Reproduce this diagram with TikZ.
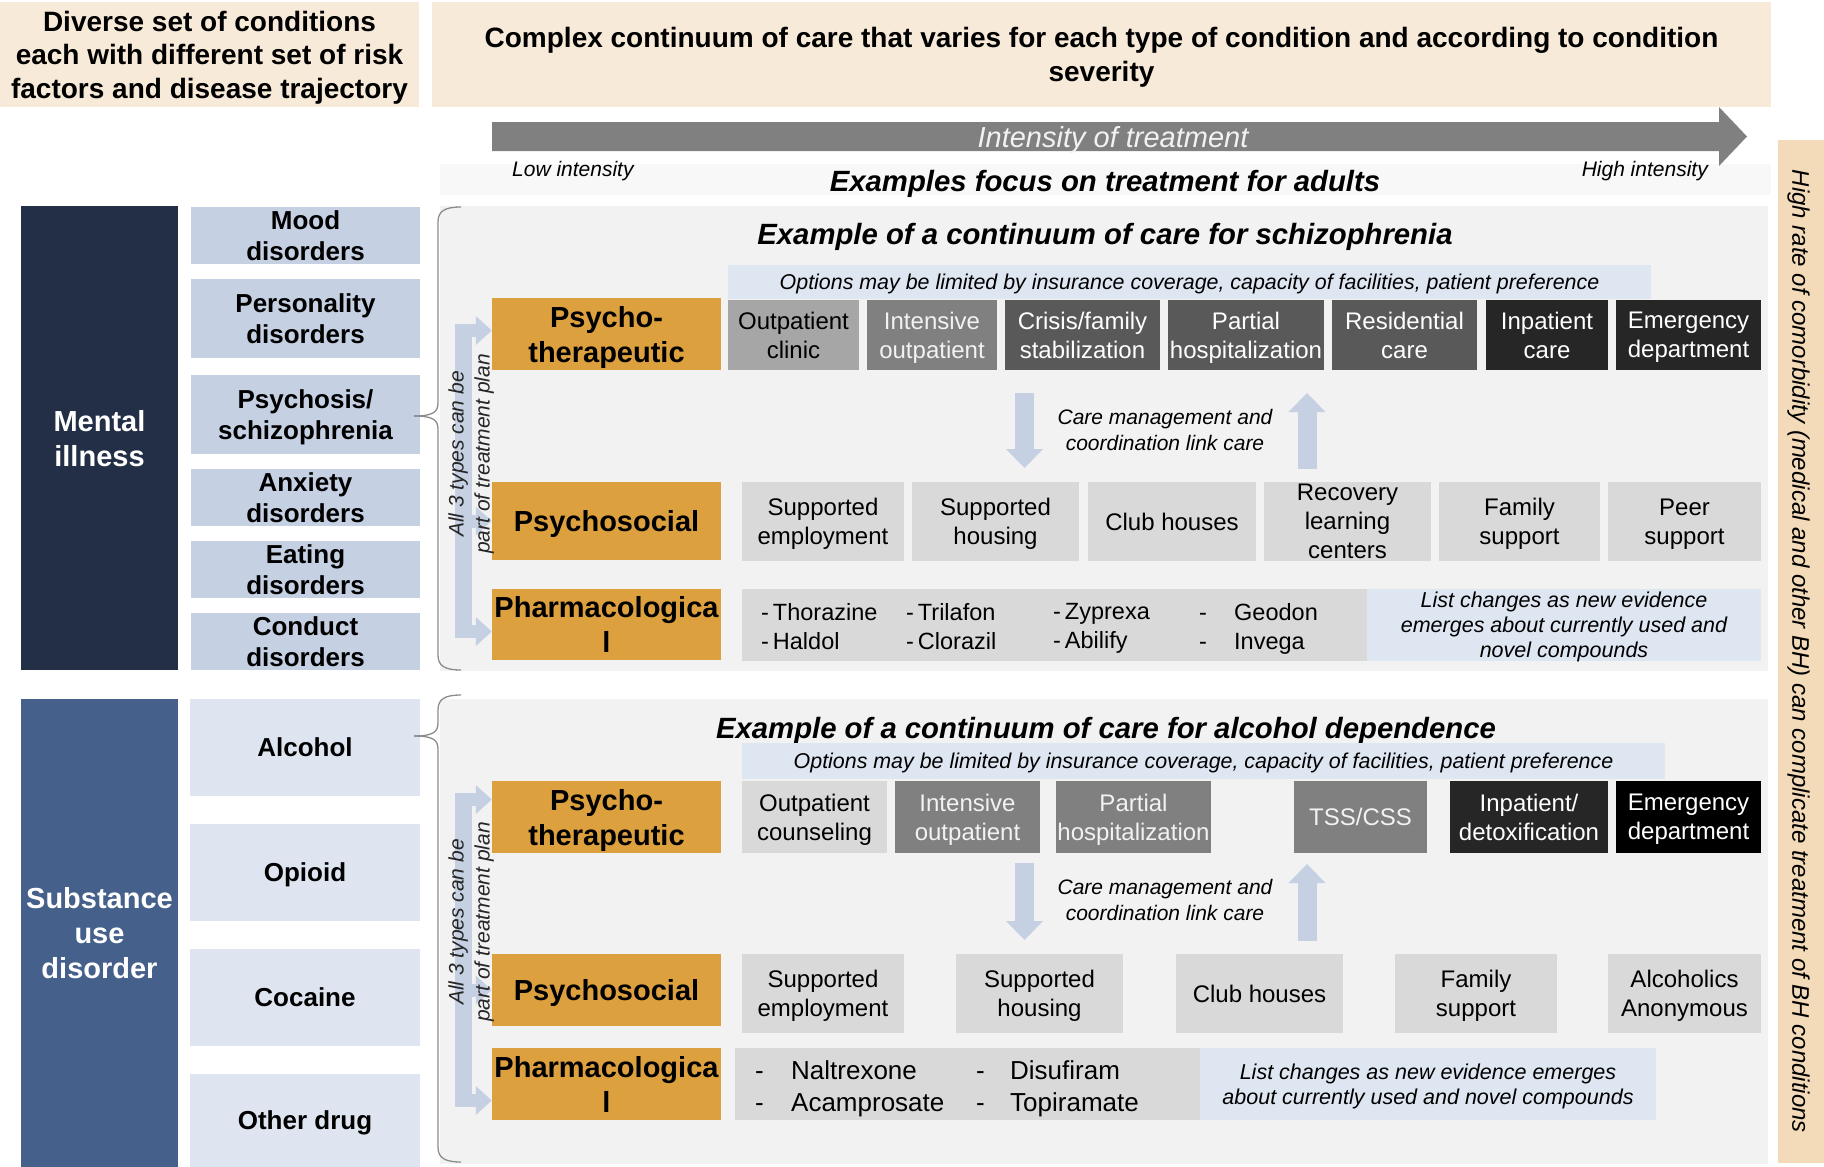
\documentclass[tikz,border=0pt]{standalone}
\usepackage{fontspec}
\setmainfont{Liberation Sans}
\usetikzlibrary{arrows.meta,positioning}

\definecolor{headtan}{HTML}{F8EAD8}
\definecolor{sidetan}{HTML}{F3DBB9}
\definecolor{stripgray}{HTML}{F8F8F8}
\definecolor{panelgray}{HTML}{F2F2F2}
\definecolor{navydark}{HTML}{222F46}
\definecolor{navylight}{HTML}{44608B}
\definecolor{steelA}{HTML}{C5D0E3}
\definecolor{steelB}{HTML}{DEE5F0}
\definecolor{optblue}{HTML}{DEE6F1}
\definecolor{ochre}{HTML}{DDA03F}

\begin{document}
\begin{tikzpicture}[x=1pt,y=-1pt]
\tikzstyle{box}=[rectangle, inner sep=0pt, text depth=0pt, align=center]
\tikzstyle{head}=[box, fill=headtan, font=\fontsize{28}{33.5}\selectfont\bfseries]
\tikzstyle{group}=[box, text=white, font=\fontsize{29}{35}\selectfont\bfseries]
\tikzstyle{cond}=[box, font=\fontsize{26}{31}\selectfont\bfseries]
\tikzstyle{panel}=[box, fill=panelgray]
\tikzstyle{kind}=[box, fill=ochre, minimum width=229, font=\fontsize{29}{35}\selectfont\bfseries]
\tikzstyle{care}=[box, font=\fontsize{24}{29}\selectfont]
\tikzstyle{optA}=[care, fill=black!35]
\tikzstyle{optB}=[care, fill=black!15]
\tikzstyle{optC}=[care, fill=black!50, text=black!5]
\tikzstyle{optD}=[care, fill=black!65, text=white]
\tikzstyle{optE}=[care, fill=black!85, text=white]
\tikzstyle{optF}=[care, fill=black, text=white]
\tikzstyle{title}=[box, font=\fontsize{29.3}{34}\selectfont\bfseries\itshape]
\tikzstyle{limits}=[box, fill=optblue, font=\fontsize{21.4}{25}\selectfont\itshape]
\tikzstyle{note}=[box, font=\fontsize{21}{26}\selectfont\itshape]
\tikzstyle{evid}=[box, fill=optblue, font=\fontsize{21.5}{25}\selectfont\itshape]
\tikzstyle{drugA}=[box, anchor=west, align=left, font=\fontsize{23.5}{29}\selectfont]
\tikzstyle{drugB}=[box, anchor=west, align=left, font=\fontsize{26}{32.5}\selectfont]
\tikzstyle{planlabel}=[box, rotate=90, text=black!85, font=\fontsize{21}{26}\selectfont\itshape]
\tikzstyle{link}=[draw=steelA, line width=19pt, -{Triangle[width=36pt, length=19pt]}]
\tikzstyle{plan}=[draw=steelA, line width=13pt, -{Triangle[width=28pt, length=16pt]}]
\tikzstyle{spine}=[draw=steelA, line width=17pt]
\tikzstyle{curly}=[draw=black!45, line width=1.3pt]

\useasboundingbox (0,0) rectangle (1824,1167);

% headings
\node[head, minimum width=419, minimum height=105] (diverse) at (209.5,54.5)
  {Diverse set of conditions\\each with different set of risk\\factors and disease trajectory};
\node[head, minimum width=1339, minimum height=105] (continuum) at (1101.5,54.5)
  {Complex continuum of care that varies for each type of condition and according to condition\\severity};

% intensity scale
\node[box, fill=stripgray, minimum width=1331, minimum height=31] (strip) at (1105.5,179.5) {};
\fill[black!50] (492,122) -- (1719,122) -- (1719,107) -- (1747,136.5) -- (1719,166) -- (1719,151) -- (492,151) -- cycle;
\node[box, text=black!5, font=\fontsize{29}{34}\selectfont\itshape] (intensity) at (1113,137) {Intensity of treatment};
\node[box, anchor=west, font=\fontsize{21}{25}\selectfont\itshape] (low) at (512,169) {Low intensity};
\node[box, anchor=east, font=\fontsize{21}{25}\selectfont\itshape] (high) at (1708,169) {High intensity};
\node[title] (adults) at (1105,181) {Examples focus on treatment for adults};

\node[box, fill=sidetan, rotate=-90, minimum width=1023, minimum height=46, font=\fontsize{24}{28}\selectfont\itshape] (comorb) at (1801,651.5)
  {High rate of comorbidity (medical and other BH) can complicate treatment of BH conditions};

% mental illness
\node[panel, minimum width=1328, minimum height=465] (panelA) at (1104,438.5) {};
\node[group, fill=navydark, minimum width=157, minimum height=464] (mental) at (99.5,438) {Mental\\illness};
\node[cond, fill=steelA, minimum width=229, minimum height=57] (mood) at (305.5,235.5) {Mood\\disorders};
\node[cond, fill=steelA, minimum width=229, minimum height=79] (person) at (305.5,318.5) {Personality\\disorders};
\node[cond, fill=steelA, minimum width=229, minimum height=79] (psychosis) at (305.5,414.5) {Psychosis/\\schizophrenia};
\node[cond, fill=steelA, minimum width=229, minimum height=57] (anxiety) at (305.5,497.5) {Anxiety\\disorders};
\node[cond, fill=steelA, minimum width=229, minimum height=57] (eating) at (305.5,569.5) {Eating\\disorders};
\node[cond, fill=steelA, minimum width=229, minimum height=57] (conduct) at (305.5,641.5) {Conduct\\disorders};

\draw[curly] (461,207) .. controls (445,207) and (438,211) .. (438,222) -- (438,403)
  .. controls (438,412) and (433,416) .. (414,416);
\draw[curly] (414,416) .. controls (433,416) and (438,420) .. (438,429) -- (438,655)
  .. controls (438,666) and (445,670) .. (461,670);

\node[kind, minimum height=72] (psyA) at (606.5,334) {Psycho-\\therapeutic};
\node[kind, minimum height=78] (socA) at (606.5,521) {Psychosocial};
\node[kind, minimum height=71] (pharA) at (606.5,624.5) {Pharmacologica\\l};

\coordinate (spA1) at (463,324);
\coordinate (spA2) at (463,638);
\coordinate (armA1) at (455,330.5);
\coordinate (armA2) at (455,521);
\coordinate (armA3) at (455,631.5);
\draw[spine] (spA1) -- (spA2);
\draw[plan] (armA1) -- (armA1 -| psyA.west);
\draw[plan] (armA2) -- (armA2 -| socA.west);
\draw[plan] (armA3) -- (armA3 -| pharA.west);
\node[planlabel] (planA) at (469,454) {All 3 types can be\\part of treatment plan};

\node[title] (titleA) at (1105,234) {Example of a continuum of care for schizophrenia};
\node[limits, minimum width=923, minimum height=34] (limA) at (1189.5,282)
  {Options may be limited by insurance coverage, capacity of facilities, patient preference};

\node[optA, minimum width=131, minimum height=70] (clinic) at (793.5,335) {Outpatient\\clinic};
\node[optC, minimum width=130, minimum height=70] (intensA) at (932,335) {Intensive\\outpatient};
\node[optD, minimum width=155, minimum height=70] (crisis) at (1082.5,335) {Crisis/family\\stabilization};
\node[optD, minimum width=156, minimum height=70] (partialA) at (1246,335) {Partial\\hospitalization};
\node[optD, minimum width=145, minimum height=70] (resid) at (1404.5,335) {Residential\\care};
\node[optE, minimum width=122, minimum height=70] (inpatA) at (1547,335) {Inpatient\\care};
\node[optE, minimum width=145, minimum height=70] (emergA) at (1688.5,335) {Emergency\\department};

\coordinate (dnA1) at (1024.5,393);
\coordinate (dnA2) at (1024.5,468);
\coordinate (upA1) at (1307,469);
\coordinate (upA2) at (1307,393);
\draw[link] (dnA1) -- (dnA2);
\draw[link] (upA1) -- (upA2);
\node[note] (linkA) at (1165,430) {Care management and\\coordination link care};

\node[optB, minimum width=162, minimum height=79] (employA) at (823,521.5) {Supported\\employment};
\node[optB, minimum width=167, minimum height=79] (housingA) at (995.5,521.5) {Supported\\housing};
\node[optB, minimum width=168, minimum height=79] (clubA) at (1172,521.5) {Club houses};
\node[optB, minimum width=167, minimum height=79] (recovery) at (1347.5,521.5) {Recovery\\learning\\centers};
\node[optB, minimum width=161, minimum height=79] (familyA) at (1519.5,521.5) {Family\\support};
\node[optB, minimum width=153, minimum height=79] (peer) at (1684.5,521.5) {Peer\\support};

\node[box, fill=black!15, minimum width=625, minimum height=72] (drugsA) at (1054.5,625) {};
\node[evid, minimum width=394, minimum height=72] (evidA) at (1564,625)
  {List changes as new evidence\\emerges about currently used and\\novel compounds};
\node[drugA] (colA1) at (761,626) {-\,Thorazine\\-\,Haldol};
\node[drugA] (colA2) at (906,626) {-\,Trilafon\\-\,Clorazil};
\node[drugA] (colA3) at (1053,626) {-\,Zyprexa\\-\,Abilify};
\node[drugA] (colA4) at (1199,626) {\makebox[35pt][l]{-}Geodon\\\makebox[35pt][l]{-}Invega};

% substance use disorder
\node[panel, minimum width=1328, minimum height=465] (panelB) at (1104,931.5) {};
\node[group, fill=navylight, minimum width=157, minimum height=468] (substance) at (99.5,933) {Substance\\use\\disorder};
\node[cond, fill=steelB, minimum width=230, minimum height=97] (alcohol) at (305,747.5) {Alcohol};
\node[cond, fill=steelB, minimum width=230, minimum height=97] (opioid) at (305,872.5) {Opioid};
\node[cond, fill=steelB, minimum width=230, minimum height=97] (cocaine) at (305,997.5) {Cocaine};
\node[cond, fill=steelB, minimum width=230, minimum height=93] (other) at (305,1120.5) {Other drug};

\draw[curly] (461,695) .. controls (445,695) and (438,699) .. (438,710) -- (438,723)
  .. controls (438,732) and (433,736) .. (414,736);
\draw[curly] (414,736) .. controls (433,736) and (438,740) .. (438,749) -- (438,1147)
  .. controls (438,1158) and (445,1162) .. (461,1162);

\node[kind, minimum height=72] (psyB) at (606.5,817) {Psycho-\\therapeutic};
\node[kind, minimum height=72] (socB) at (606.5,990) {Psychosocial};
\node[kind, minimum height=72] (pharB) at (606.5,1084) {Pharmacologica\\l};

\coordinate (spB1) at (463,793);
\coordinate (spB2) at (463,1107);
\coordinate (armB1) at (455,799.5);
\coordinate (armB2) at (455,990);
\coordinate (armB3) at (455,1100.5);
\draw[spine] (spB1) -- (spB2);
\draw[plan] (armB1) -- (armB1 -| psyB.west);
\draw[plan] (armB2) -- (armB2 -| socB.west);
\draw[plan] (armB3) -- (armB3 -| pharB.west);
\node[planlabel] (planB) at (469,922) {All 3 types can be\\part of treatment plan};

\node[title] (titleB) at (1106,728) {Example of a continuum of care for alcohol dependence};
\node[limits, minimum width=923, minimum height=36] (limB) at (1203.5,761)
  {Options may be limited by insurance coverage, capacity of facilities, patient preference};

\node[optB, minimum width=145, minimum height=72] (counsel) at (814.5,817) {Outpatient\\counseling};
\node[optC, minimum width=145, minimum height=72] (intensB) at (967.5,817) {Intensive\\outpatient};
\node[optC, minimum width=155, minimum height=72] (partialB) at (1133.5,817) {Partial\\hospitalization};
\node[optC, minimum width=133, minimum height=72] (tss) at (1360.5,817) {TSS/CSS};
\node[optE, minimum width=158, minimum height=72] (detox) at (1529,817) {Inpatient/\\detoxification};
\node[optF, minimum width=145, minimum height=72] (emergB) at (1688.5,817) {Emergency\\department};

\coordinate (dnB1) at (1024.5,863);
\coordinate (dnB2) at (1024.5,940);
\coordinate (upB1) at (1307,941);
\coordinate (upB2) at (1307,864);
\draw[link] (dnB1) -- (dnB2);
\draw[link] (upB1) -- (upB2);
\node[note] (linkB) at (1165,900) {Care management and\\coordination link care};

\node[optB, minimum width=162, minimum height=79] (employB) at (823,993.5) {Supported\\employment};
\node[optB, minimum width=167, minimum height=79] (housingB) at (1039.5,993.5) {Supported\\housing};
\node[optB, minimum width=167, minimum height=79] (clubB) at (1259.5,993.5) {Club houses};
\node[optB, minimum width=162, minimum height=79] (familyB) at (1476,993.5) {Family\\support};
\node[optB, minimum width=153, minimum height=79] (aa) at (1684.5,993.5) {Alcoholics\\Anonymous};

\node[box, fill=black!15, minimum width=465, minimum height=72] (drugsB) at (967.5,1084) {};
\node[evid, minimum width=456, minimum height=72] (evidB) at (1428,1084)
  {List changes as new evidence emerges\\about currently used and novel compounds};
\node[drugB] (colB1) at (755,1086) {\makebox[36pt][l]{-}Naltrexone\\\makebox[36pt][l]{-}Acamprosate};
\node[drugB] (colB2) at (976,1086) {\makebox[34pt][l]{-}Disufiram\\\makebox[34pt][l]{-}Topiramate};

\end{tikzpicture}
\end{document}
